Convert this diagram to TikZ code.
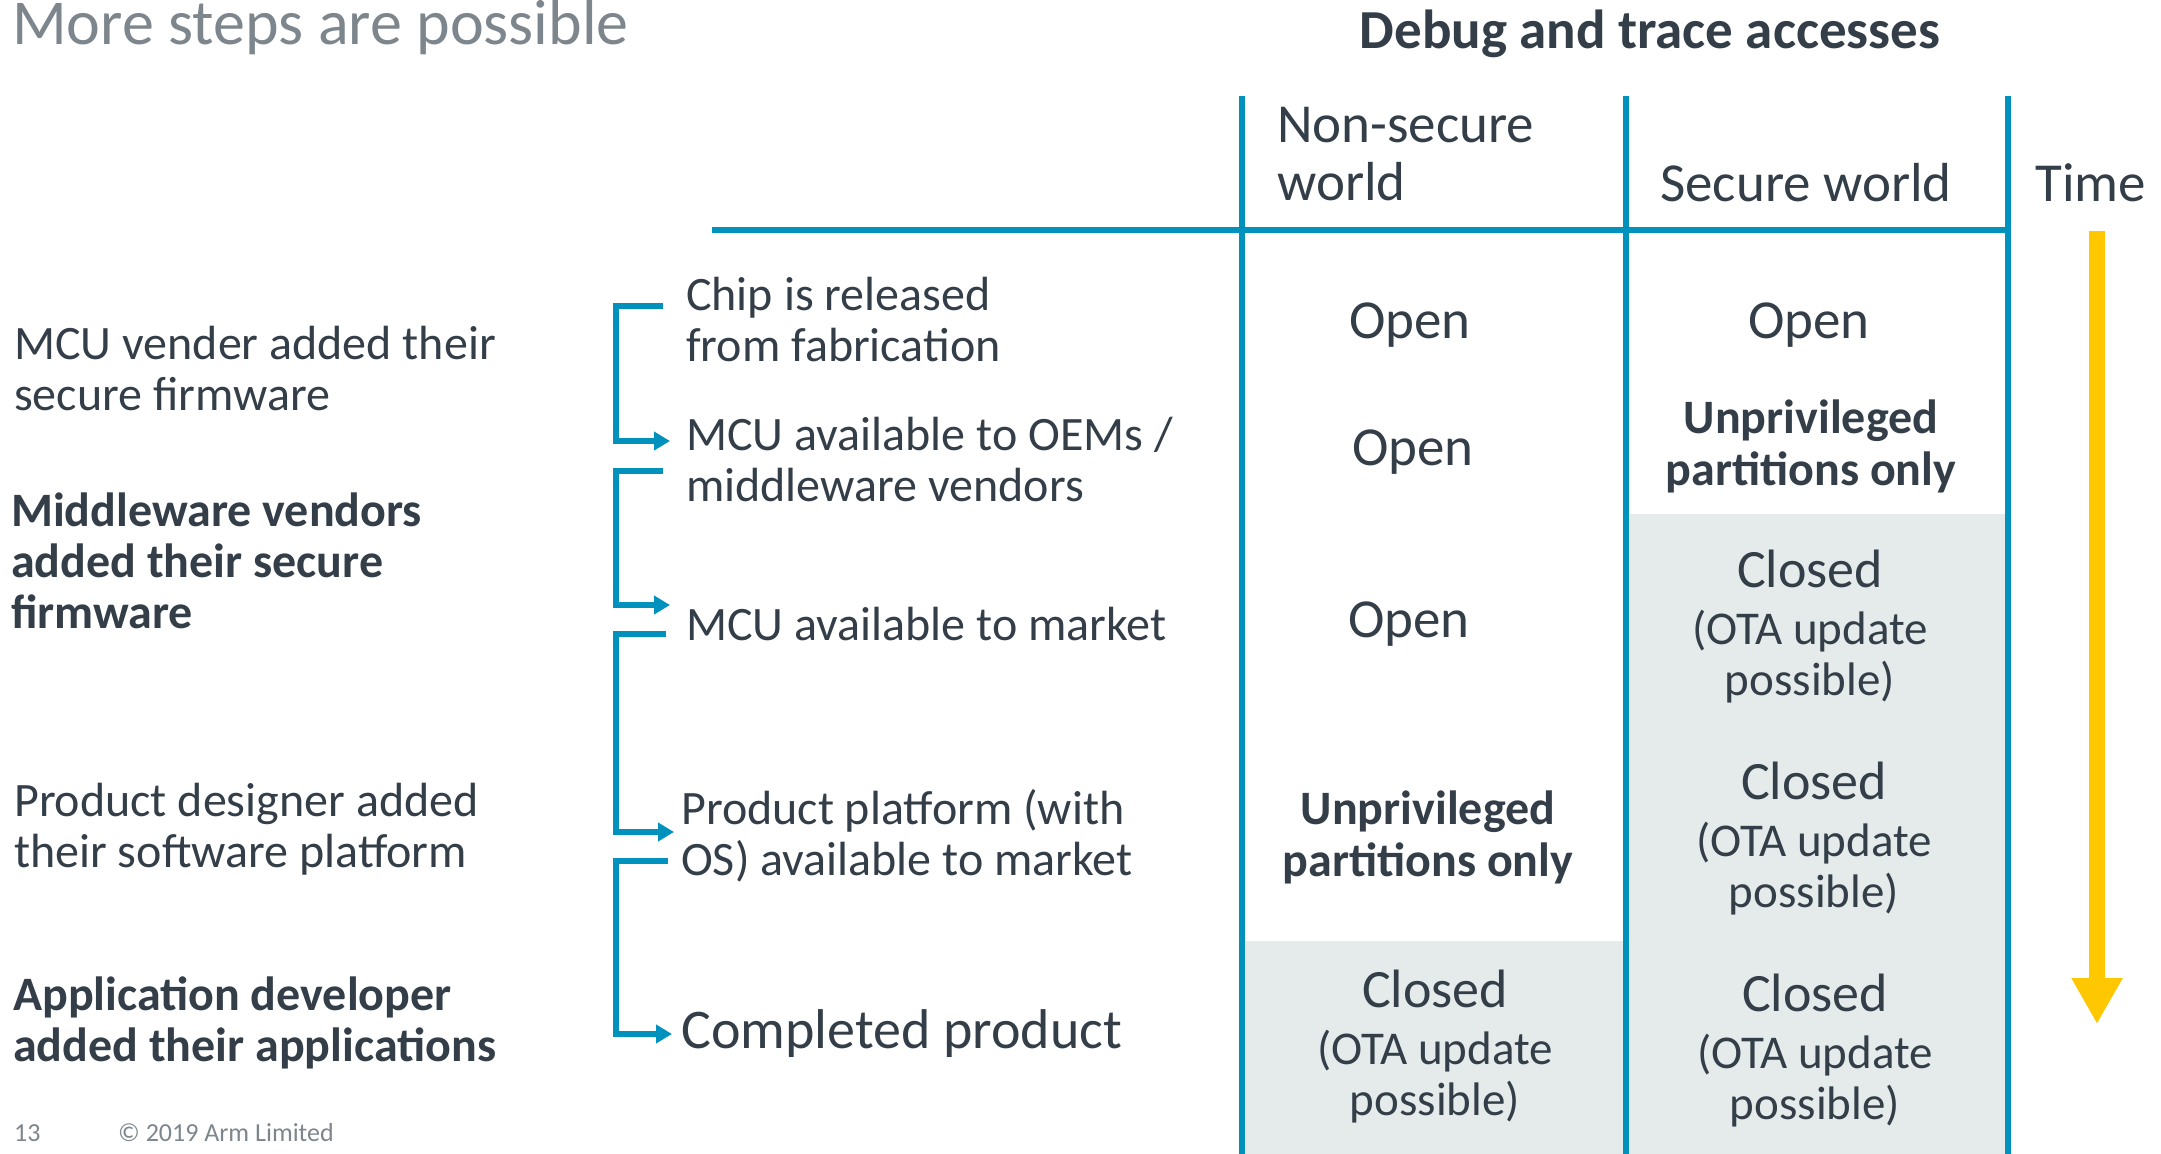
\documentclass[tikz,border=0pt]{standalone}
\usepackage{fontspec}
\setmainfont{Carlito}
\usetikzlibrary{arrows.meta}
\definecolor{armblue}{HTML}{0091BD}
\definecolor{inkdark}{HTML}{333E48}
\definecolor{softgray}{HTML}{7D868C}
\definecolor{cellgray}{HTML}{E5EBEB}
\definecolor{timeyellow}{HTML}{FFC700}
\begin{document}
\begin{tikzpicture}[x=1pt,y=-1pt,
  txt/.style={text=inkdark, inner sep=0pt},
  body/.style={txt, font=\fontsize{48}{51}\selectfont},
  bodybold/.style={txt, font=\fontsize{48}{51}\selectfont\bfseries},
  cell/.style={txt, font=\fontsize{55}{58}\selectfont, align=center},
  closedcell/.style={txt, font=\fontsize{47}{51}\selectfont, align=center},
  boldcell/.style={txt, font=\fontsize{48}{52}\selectfont\bfseries, align=center},
  grid/.style={armblue, line width=6pt},
  brk/.style={armblue, line width=6pt, -{Triangle[length=16pt,width=18pt]}},
  footer/.style={text=softgray, inner sep=0pt, font=\fontsize{26}{28}\selectfont}]

\useasboundingbox (0,0) rectangle (2161,1154);

% shaded (closed) regions
\fill[cellgray] (1626,514) rectangle (2008,1154);
\fill[cellgray] (1242,941) rectangle (1626,1154);

% table rules
\draw[grid] (712,230) -- (2008,230);
\draw[grid] (1242,96) -- (1242,1154);
\draw[grid] (1626,96) -- (1626,1154);
\draw[grid] (2008,96) -- (2008,1154);

% titles
\node[text=softgray, inner sep=0pt, anchor=base west, font=\fontsize{64}{66}\selectfont]
  (title) at (12,44) {More steps are possible};
\node[txt, anchor=base, font=\fontsize{55}{58}\selectfont\bfseries]
  (access) at (1650,48) {Debug and trace accesses};

% column headers
\node[txt, anchor=west, align=left, font=\fontsize{55}{58}\selectfont]
  (nsw) at (1277,154) {Non-secure\\world};
\node[cell] (sw) at (1806,183) {Secure world};
\node[txt, anchor=west, font=\fontsize{55}{58}\selectfont] (time) at (2035,183) {Time};

% who adds what
\node[body, anchor=west, align=left] (vender) at (14,369) {MCU vender added their\\secure firmware};
\node[bodybold, anchor=west, align=left] (mw) at (11,561) {Middleware vendors\\added their secure\\firmware};
\node[body, anchor=west, align=left] (designer) at (14,829) {Product designer added\\their software platform};
\node[bodybold, anchor=west, align=left] (appdev) at (13,1023) {Application developer\\added their applications};

% life-cycle steps
\node[body, anchor=west, align=left] (chip) at (686,320) {Chip is released\\from fabrication};
\node[body, anchor=west, align=left] (oems) at (686,460) {MCU available to OEMs /\\middleware vendors};
\node[body, anchor=west] (market) at (686,624) {MCU available to market};
\node[body, anchor=west, align=left] (platform) at (681,836) {Product platform (with\\OS) available to market};
\node[txt, anchor=west, font=\fontsize{56}{60}\selectfont] (done) at (681,1034) {Completed product};

% step brackets
\coordinate (bx) at (616,0);
\coordinate (b1s) at (663,306); \coordinate (b1e) at (670,441);
\coordinate (b2s) at (663,471); \coordinate (b2e) at (670,605);
\coordinate (b3s) at (666,634); \coordinate (b3e) at (674,832);
\coordinate (b4s) at (668,861); \coordinate (b4e) at (672,1034);
\foreach \s/\e in {b1s/b1e, b2s/b2e, b3s/b3e, b4s/b4e}
  \draw[brk] (\s) -- (\s -| bx) |- (\e);

% access per step, non-secure world
\node[cell] (ns1) at (1410,325) {Open};
\node[cell] (ns2) at (1413,452) {Open};
\node[cell] (ns3) at (1409,624) {Open};
\node[boldcell] (ns4) at (1428,837) {Unprivileged\\partitions only};
\node[closedcell] (ns5) at (1435,1047) {{\fontsize{54}{58}\selectfont Closed}\\[6pt](OTA update\\possible)};

% access per step, secure world
\node[cell] (s1) at (1809,325) {Open};
\node[boldcell] (s2) at (1811,446) {Unprivileged\\partitions only};
\node[closedcell] (s3) at (1810,627) {{\fontsize{54}{58}\selectfont Closed}\\[6pt](OTA update\\possible)};
\node[closedcell] (s4) at (1814,839) {{\fontsize{54}{58}\selectfont Closed}\\[6pt](OTA update\\possible)};
\node[closedcell] (s5) at (1815,1051) {{\fontsize{54}{58}\selectfont Closed}\\[6pt](OTA update\\possible)};

% time arrow
\coordinate (tstart) at (2097,231);
\coordinate (tend) at (2097,1024);
\draw[timeyellow, line width=16pt, -{Triangle[length=46pt,width=48pt]}] (tstart) -- (tend);

% footer
\node[footer, anchor=west] (page) at (14,1133) {13};
\node[footer, anchor=west] (copy) at (118,1133) {© 2019 Arm Limited};
\end{tikzpicture}
\end{document}
